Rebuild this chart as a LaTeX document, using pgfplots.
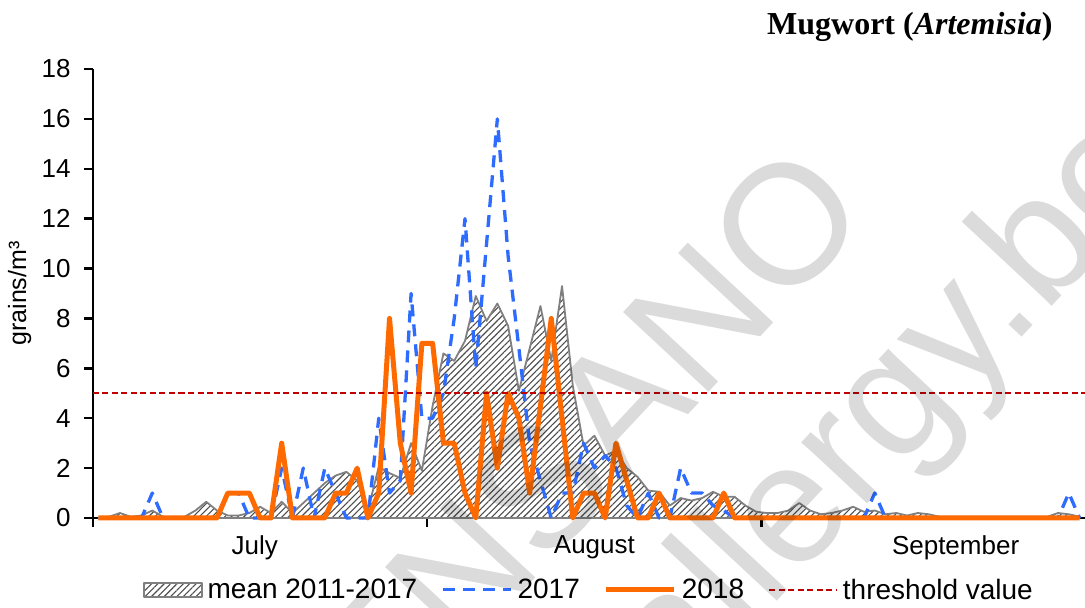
\documentclass[border=0pt]{standalone}
\usepackage{fontspec}
\setmainfont{Liberation Sans}
\newfontfamily\titlefont{Liberation Serif}
\usepackage{pgfplots}
\usepackage{pgfplotstable}
\pgfplotsset{compat=1.18}
\usetikzlibrary{patterns.meta}
\definecolor{c17}{RGB}{46,107,255}
\definecolor{c18}{RGB}{255,106,0}
\definecolor{cth}{RGB}{192,0,0}
\definecolor{cmean}{RGB}{128,128,128}
\pgfplotsset{
  boxleg/.style={legend image code/.code={\draw[##1, line width=1.5pt] (0pt,-7pt) rectangle (58pt,7pt);}},
  lineleg/.style={legend image code/.code={\draw[##1] (0pt,0pt) -- (68pt,0pt);}},
}
\pgfplotstableread{
i mean y17 y18
0 0 0 0
1 0.05 0 0
2 0.2 0 0
3 0.05 0 0
4 0.1 0 0
5 0.3 1 0
6 0.05 0 0
7 0 0 0
8 0.05 0 0
9 0.3 0 0
10 0.65 0 0
11 0.3 0 0
12 0.1 1 1
13 0.1 1 1
14 0.2 0 1
15 0.45 0 0
16 0.2 0 0
17 0.65 2 3
18 0.2 0 0
19 0.6 2 0
20 1.0 0 0
21 1.4 2 0
22 1.7 1 1
23 1.85 0 1
24 1.5 0 2
25 0.3 0 0
26 2.05 4 1
27 1.8 1 8
28 1.6 1.5 3
29 3.0 9 1
30 1.9 4 7
31 4.5 4 7
32 6.6 5 3
33 6.3 8 3
34 7.1 12 1
35 8.9 6 0
36 7.9 11 5
37 8.6 16 2
38 7.7 10.5 5
39 5.1 6.8 4
40 6.8 3 1
41 8.5 1.5 4.5
42 6.3 0 8
43 9.3 1 4
44 5.3 1 0
45 2.9 3 1
46 3.3 2 1
47 2.5 2.5 0
48 2.7 2 3
49 2.0 0.5 1.5
50 1.65 0 0
51 1.1 1 0
52 1.05 0 1
53 0.5 0 0
54 0.8 2 0
55 0.7 1 0
56 0.8 1 0
57 1.05 0.5 0
58 0.85 0.3 1
59 0.85 0 0
60 0.5 0 0
61 0.25 0 0
62 0.2 0 0
63 0.2 0 0
64 0.3 0 0
65 0.6 0 0
66 0.3 0 0
67 0.15 0 0
68 0.2 0 0
69 0.3 0 0
70 0.45 0 0
71 0.25 0 0
72 0.3 1 0
73 0.15 0 0
74 0.2 0 0
75 0.1 0 0
76 0.2 0 0
77 0.15 0 0
78 0.05 0 0
79 0.05 0 0
80 0.05 0 0
81 0.05 0 0
82 0.05 0 0
83 0.05 0 0
84 0.05 0 0
85 0.05 0 0
86 0.05 0 0
87 0.05 0 0
88 0.05 0 0
89 0.2 0 0
90 0.15 1 0
91 0.05 0 0
}\data
\begin{document}
\begin{tikzpicture}[x=1pt,y=1pt]
\path[use as bounding box] (0,0) rectangle (1085,608);
\node[anchor=east, font=\titlefont\bfseries\fontsize{32}{38}\selectfont] at (1056,581) {Mugwort (\textit{Artemisia})};
\begin{axis}[
  at={(93pt,90pt)}, anchor=south west,
  scale only axis, width=992pt, height=449pt,
  xmin=-0.5, xmax=91.5, ymin=0, ymax=18,
  axis lines*=left,
  axis line style={black, line width=2.4pt},
  xtick={-0.5,30.5,61.5}, xticklabels={},
  extra x ticks={14.5,46,79.5},
  extra x tick labels={July,August,September},
  extra x tick style={major tick length=0pt, xticklabel style={yshift=-14pt}},
  ytick={0,2,...,18},
  tick align=outside,
  major tick length=9pt,
  tick style={black, line width=2.4pt},
  /pgf/number format/assume math mode=true,
  tick label style={font=\fontsize{26}{30}\selectfont},
  yticklabel style={xshift=-10pt},
  ylabel={grains/m³},
  ylabel style={font=\fontsize{25}{30}\selectfont, at={(axis description cs:-0.074,0.5)}, anchor=center},
  legend style={at={(0.5,-0.16)}, anchor=center, draw=none, fill=none,
    legend columns=4, font=\fontsize{28}{32}\selectfont,
    /tikz/every odd column/.append style={column sep=3pt},
    /tikz/every even column/.append style={column sep=22pt}},
  clip=false,
]
\addplot[boxleg, draw=cmean, line width=1.8pt, line join=round,
  pattern={Lines[angle=45,distance=4.5pt,line width=1.1pt]}, pattern color=black!70]
  table[x=i,y=mean]{\data} \closedcycle;
\addlegendentry{mean 2011-2017}
\addplot[lineleg, c17, line width=3.3pt, dash pattern=on 12pt off 8pt, line join=round]
  table[x=i,y=y17]{\data};
\addlegendentry{2017}
\addplot[lineleg, c18, line width=5pt, line join=round]
  table[x=i,y=y18]{\data};
\addlegendentry{2018}
\addplot[lineleg, cth, line width=1.8pt, dash pattern=on 6pt off 3.5pt]
  coordinates {(-0.5,5) (91.5,5)};
\addlegendentry{threshold value}
\end{axis}
\node[rotate=47, anchor=base, text=black, text opacity=0.14, font=\fontsize{170}{170}\selectfont] at (532,26) {SCIENSANO};
\node[rotate=47, anchor=base, text=black, text opacity=0.14, font=\fontsize{170}{170}\selectfont] at (926,167) {allergy.be};
\end{tikzpicture}
\end{document}
